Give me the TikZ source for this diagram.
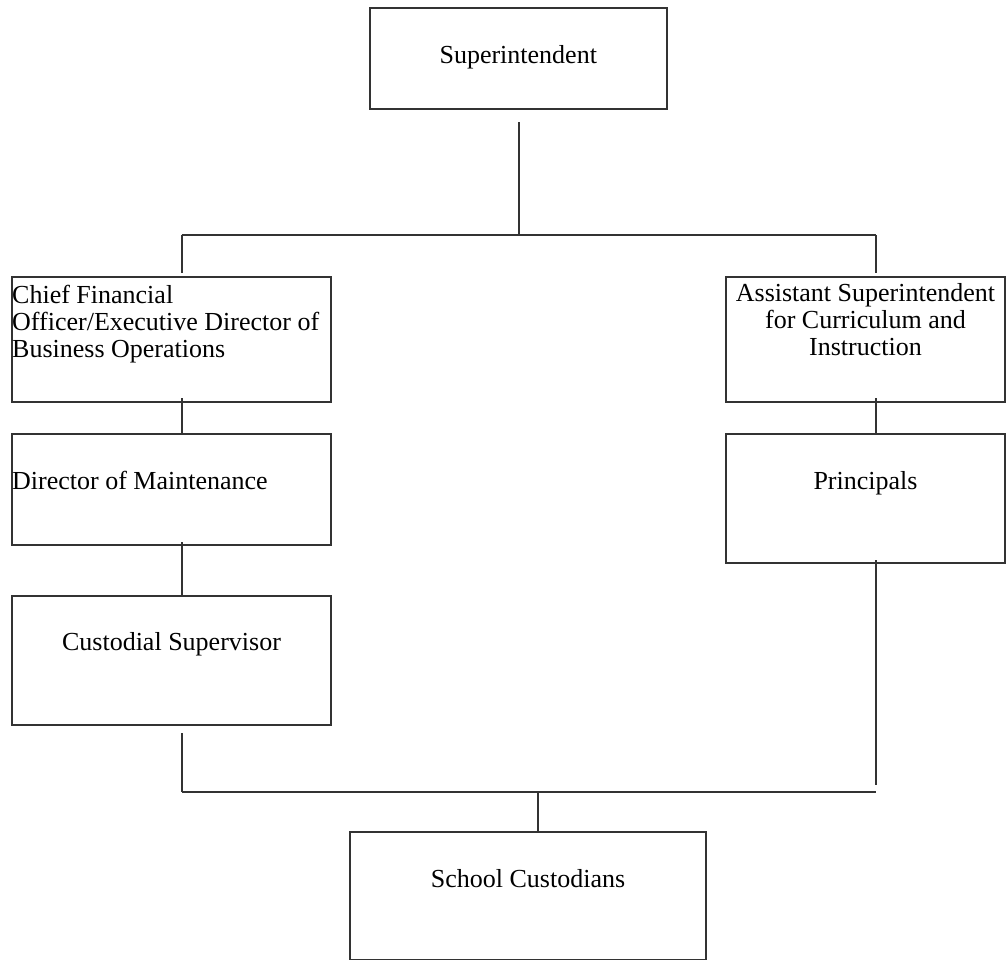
\documentclass[tikz,border=0pt]{standalone}
\usepackage{fontspec}
\setmainfont{Liberation Serif}
\begin{document}
\begin{tikzpicture}[x=1pt,y=-1pt,
  box/.style={draw=black!80, line width=2pt, inner sep=0pt, outer sep=0pt, anchor=north west},
  wire/.style={draw=black!80, line width=2pt},
  lbl/.style={inner sep=0pt, font=\fontsize{26}{27}\selectfont}]
\useasboundingbox (0,0) rectangle (1006,959);

% boxes
\node[box, minimum width=297.5pt, minimum height=101pt] (sup)  at (369.5,8) {};
\node[box, minimum width=319pt,   minimum height=125pt] (cfo)  at (12,277) {};
\node[box, minimum width=279pt,   minimum height=125pt] (asst) at (726,277) {};
\node[box, minimum width=319pt,   minimum height=111pt] (dir)  at (12,434) {};
\node[box, minimum width=319pt,   minimum height=129pt] (cust) at (12,596) {};
\node[box, minimum width=279pt,   minimum height=129pt] (prin) at (726,434) {};
\node[box, minimum width=356pt,   minimum height=128pt] (sc)   at (350,832) {};

% labels (multi-line labels are anchored on the baseline of their last line)
\node[lbl, anchor=base] (t-sup) at ([yshift=-55pt]sup.north) {Superintendent};
\node[lbl, anchor=base west, align=left] (t-cfo) at ([yshift=-80pt]cfo.north west)
  {Chief Financial\\Officer/Executive Director of\\Business Operations};
\node[lbl, anchor=base, align=center] (t-asst) at ([yshift=-78pt]asst.north)
  {Assistant Superintendent\\for Curriculum and\\Instruction};
\node[lbl, anchor=base west] (t-dir) at ([yshift=-55pt]dir.north west) {Director of Maintenance};
\node[lbl, anchor=base] (t-cust) at ([yshift=-54pt]cust.north) {Custodial Supervisor};
\node[lbl, anchor=base] (t-prin) at ([yshift=-55pt]prin.north) {Principals};
\node[lbl, anchor=base] (t-sc) at ([yshift=-55pt]sc.north) {School Custodians};

% junction points of the two buses
\coordinate (jl) at (181.5,235);
\coordinate (jc) at (519,235);
\coordinate (jr) at (876,235);
\coordinate (bl) at (181.5,792);
\coordinate (bc) at (538,792);
\coordinate (br) at (876,792);

% upper bus
\draw[wire, shorten <=13pt] (jc |- sup.south) -- (jc);
\draw[wire] (jl) -- (jr);
\draw[wire, shorten >=4pt] (jl) -- (jl |- cfo.north);
\draw[wire, shorten >=4pt] (jr) -- (jr |- asst.north);

% left chain
\draw[wire, shorten <=-4pt] (jl |- cfo.south) -- (jl |- dir.north);
\draw[wire, shorten <=-3pt] (jl |- dir.south) -- (jl |- cust.north);
\draw[wire, shorten <=8pt] (bl |- cust.south) -- (bl);

% right chain
\draw[wire, shorten <=-4pt] (jr |- asst.south) -- (jr |- prin.north);
\draw[wire, shorten <=-3pt, shorten >=7pt] (br |- prin.south) -- (br);

% lower bus
\draw[wire] (bl) -- (br);
\draw[wire] (bc) -- (bc |- sc.north);
\end{tikzpicture}
\end{document}
